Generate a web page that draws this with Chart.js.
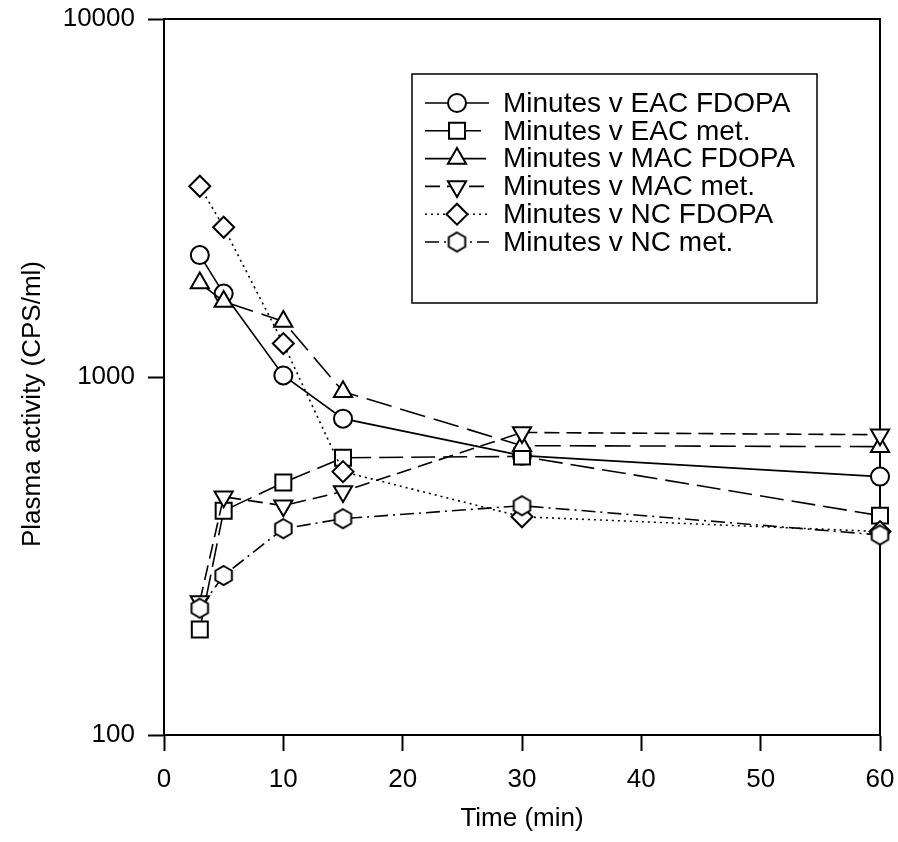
<!DOCTYPE html>
<html>
<head>
<meta charset="utf-8">
<script src="https://cdn.jsdelivr.net/npm/chart.js@4/dist/chart.umd.min.js"></script>
<style>
  html, body { margin: 0; padding: 0; background: #fff; }
  #wrap { width: 898px; height: 842px; position: relative; }
</style>
</head>
<body>
<div id="wrap"><canvas id="plasmaChart"></canvas></div>
<script>
// time points (min)
const minutes = [3, 5, 10, 15, 30, 60];

// plasma activity (CPS/ml)
const eacFdopa = [2190, 1710, 1010, 765, 603, 527];
const eacMet   = [197, 423, 507, 595, 600, 410];
const macFdopa = [1830, 1625, 1430, 910, 643, 639];
const macMet   = [236, 463, 437, 479, 700, 690];
const ncFdopa  = [3410, 2620, 1240, 544, 407, 370];
const ncMet    = [226, 279, 377, 402, 437, 362];

const seriesLabels = [
    'Minutes v EAC FDOPA',
    'Minutes v EAC met.',
    'Minutes v MAC FDOPA',
    'Minutes v MAC met.',
    'Minutes v NC FDOPA',
    'Minutes v NC met.'
];

const xTicks = [0, 10, 20, 30, 40, 50, 60];
const yTicks = [100, 1000, 10000];

const FONT = '"Liberation Sans", Arial, Helvetica, sans-serif';

// hexagon marker, Chart.js has none built in
function makeHexagon(r) {
    const c = document.createElement('canvas');
    const s = Math.ceil(r * 2 + 4);
    c.width = s; c.height = s;
    const g = c.getContext('2d');
    g.beginPath();
    for (let i = 0; i < 6; i++) {
        const a = -Math.PI / 2 + i * Math.PI / 3;
        const px = s / 2 + r * Math.cos(a), py = s / 2 + r * Math.sin(a);
        if (i === 0) g.moveTo(px, py); else g.lineTo(px, py);
    }
    g.closePath();
    g.fillStyle = '#fff';
    g.fill();
    g.lineWidth = 2;
    g.strokeStyle = '#000';
    g.stroke();
    return c;
}
const hexagon = makeHexagon(9.5);

function series(idx, values, style, radius, rotation, dash) {
    return {
        label: seriesLabels[idx],
        data: minutes.map((m, i) => ({ x: m, y: values[i] })),
        order: 10 - idx, // later series drawn on top, as in the figure
        borderColor: '#000',
        borderWidth: 1.6,
        borderDash: dash,
        pointStyle: style,
        pointRadius: radius,
        pointRotation: rotation,
        pointBackgroundColor: '#fff',
        pointBorderColor: '#000',
        pointBorderWidth: 2,
        fill: false,
        tension: 0,
        clip: false
    };
}

const datasets = [
    series(0, eacFdopa, 'circle', 9, 0, []),
    series(1, eacMet, 'rect', 11.3, 0, [24, 8]),
    series(2, macFdopa, 'triangle', 10.5, 0, [26, 9]),
    series(3, macMet, 'triangle', 10.5, 180, [15, 7]),
    series(4, ncFdopa, 'rectRot', 10.5, 0, [2, 4]),
    series(5, ncMet, hexagon, 9.5, 0, [14, 5, 2, 5])
];

// box round the plot, boxed legend and the rotated y title
const framePlugin = {
    id: 'frame',
    beforeDatasetsDraw(chart) {
        const { ctx, chartArea: a } = chart;
        ctx.save();
        ctx.strokeStyle = '#000';
        ctx.lineWidth = 2;
        ctx.beginPath();
        ctx.moveTo(a.left, a.top);
        ctx.lineTo(a.right, a.top);
        ctx.lineTo(a.right, a.bottom);
        ctx.stroke();
        ctx.restore();
    },
    afterDraw(chart) {
        const ctx = chart.ctx;
        ctx.save();
        // y title
        ctx.translate(33, 404);
        ctx.rotate(-Math.PI / 2);
        ctx.font = '26px ' + FONT;
        ctx.fillStyle = '#000';
        ctx.textAlign = 'center';
        ctx.textBaseline = 'middle';
        ctx.fillText('Plasma activity (CPS/ml)', 0, 0);
        ctx.restore();

        // legend
        const bx = 412, by = 74, bw = 405, bh = 229;
        ctx.save();
        ctx.fillStyle = '#fff';
        ctx.fillRect(bx, by, bw, bh);
        ctx.strokeStyle = '#000';
        ctx.lineWidth = 1.5;
        ctx.strokeRect(bx, by, bw, bh);
        chart.data.datasets.forEach((ds, i) => {
            const y = by + 29 + i * 27.8;
            ctx.save();
            ctx.strokeStyle = '#000';
            ctx.lineWidth = ds.borderWidth;
            ctx.setLineDash(ds.borderDash);
            ctx.beginPath();
            ctx.moveTo(bx + 13, y);
            ctx.lineTo(bx + 77, y);
            ctx.stroke();
            ctx.setLineDash([]);
            ctx.fillStyle = '#fff';
            ctx.lineWidth = ds.pointBorderWidth;
            Chart.helpers.drawPoint(ctx, {
                pointStyle: ds.pointStyle,
                rotation: ds.pointRotation,
                radius: ds.pointRadius,
                borderWidth: ds.pointBorderWidth
            }, bx + 45, y);
            ctx.restore();
            ctx.font = '28px ' + FONT;
            ctx.fillStyle = '#000';
            ctx.textAlign = 'left';
            ctx.textBaseline = 'middle';
            ctx.fillText(ds.label, bx + 91, y + 1);
        });
        ctx.restore();
    }
};

Chart.defaults.font.family = FONT;
Chart.defaults.color = '#000';

new Chart(document.getElementById('plasmaChart'), {
    type: 'line',
    data: { datasets: datasets },
    options: {
        responsive: true,
        maintainAspectRatio: false,
        animation: false,
        events: [],
        layout: { padding: { top: 19, right: 18, left: 0, bottom: 0 } },
        plugins: {
            legend: { display: false },
            tooltip: { enabled: false }
        },
        scales: {
            x: {
                type: 'linear',
                min: 0,
                max: 60,
                afterBuildTicks: scale => { scale.ticks = xTicks.map(v => ({ value: v })); },
                afterFit: scale => {
                    scale.height = 107;
                    scale.paddingLeft = 0;
                    scale.paddingRight = 0;
                },
                ticks: { font: { size: 26 }, padding: 13, maxRotation: 0 },
                grid: { drawOnChartArea: false, drawTicks: true, tickLength: 16, tickColor: '#000', tickWidth: 2 },
                border: { display: true, color: '#000', width: 2 },
                title: { display: true, text: 'Time (min)', font: { size: 26 }, padding: { top: 0, bottom: 8 } }
            },
            y: {
                type: 'logarithmic',
                min: 100,
                max: 10000,
                afterBuildTicks: scale => { scale.ticks = yTicks.map(v => ({ value: v })); },
                afterFit: scale => {
                    scale.width = 164;
                    scale.paddingTop = 0;
                    scale.paddingBottom = 0;
                },
                ticks: { font: { size: 26 }, padding: 13, callback: v => String(v) },
                grid: { drawOnChartArea: false, drawTicks: true, tickLength: 16, tickColor: '#000', tickWidth: 2 },
                border: { display: true, color: '#000', width: 2 }
            }
        }
    },
    plugins: [framePlugin]
});
</script>
</body>
</html>
